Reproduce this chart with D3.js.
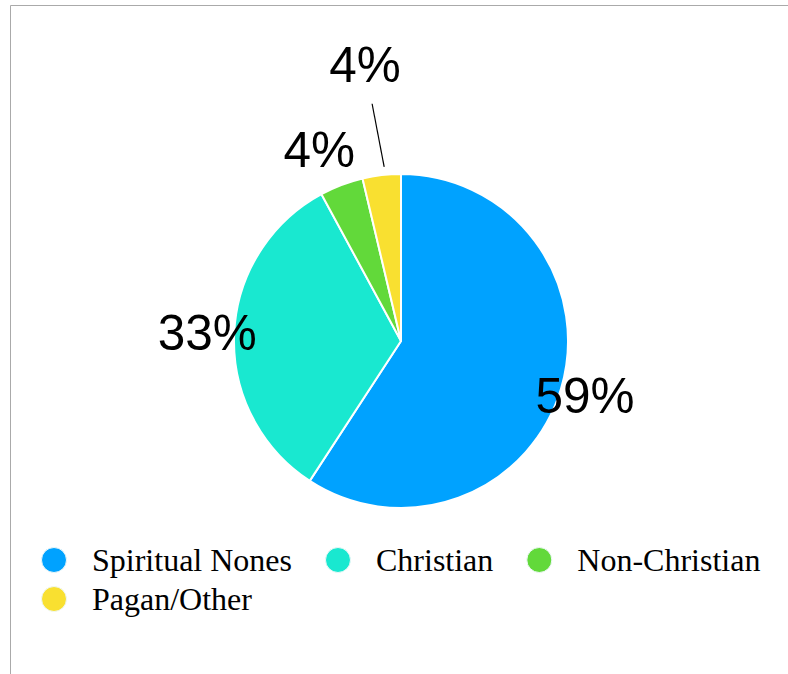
<!DOCTYPE html>
<html>
<head>
<meta charset="utf-8">
<script src="https://cdn.jsdelivr.net/npm/d3@7"></script>
<style>
  html, body { margin: 0; padding: 0; background: #fff; }
  #chart { width: 788px; height: 674px; }
</style>
</head>
<body>
<div id="chart"></div>
<script>
'use strict'

// religious identity shares (percent)
var categories = ['Spiritual Nones', 'Christian', 'Non-Christian', 'Pagan/Other']
var values = [59.2, 32.9, 4.2, 3.7]
var colors = ['#00a2ff', '#19e8d0', '#62d93a', '#f9e030']

var width = 788
var height = 674
var cx = 401
var cy = 341
var radius = 167

var data = categories.map(function(c, i) {
  return { label: c, value: values[i], color: colors[i] }
})

var svg = d3
  .select('#chart')
  .append('svg')
  .attr('width', width)
  .attr('height', height)

// frame lines (top + left)
svg
  .append('path')
  .attr('d', 'M10.5,674 L10.5,5.5 L788,5.5')
  .attr('fill', 'none')
  .attr('stroke', '#aaa')
  .attr('stroke-width', 1)

var pie = d3
  .pie()
  .sort(null)
  .value(function(d) {
    return d.value
  })

var arc = d3.arc().innerRadius(0).outerRadius(radius)

var arcs = pie(data)

var g = svg.append('g').attr('transform', 'translate(' + cx + ',' + cy + ')')

g.selectAll('path.slice')
  .data(arcs)
  .enter()
  .append('path')
  .attr('class', 'slice')
  .attr('d', arc)
  .attr('fill', function(d) {
    return d.data.color
  })
  .attr('stroke', '#fff')
  .attr('stroke-width', 2)

// label radius / angle nudge per slice; last small slice is pulled out with a leader line
var labelR = [192, 194, 208, 278]
var labelNudge = [0, 0, -0.04, 0]

function polar(a, r) {
  return [Math.sin(a) * r, -Math.cos(a) * r]
}

arcs.forEach(function(d, i) {
  var mid = (d.startAngle + d.endAngle) / 2
  var p = polar(mid + labelNudge[i], labelR[i])
  if (i === 3) {
    var p1 = polar(mid + 0.02, radius + 8)
    var p2 = polar(mid - 0.005, radius + 72)
    g.append('line')
      .attr('x1', p1[0])
      .attr('y1', p1[1])
      .attr('x2', p2[0])
      .attr('y2', p2[1])
      .attr('stroke', '#000')
      .attr('stroke-width', 1.2)
    p = [-36, -276]
  }
  g.append('text')
    .attr('x', p[0])
    .attr('y', p[1])
    .attr('dy', '0.35em')
    .attr('text-anchor', 'middle')
    .attr('font-family', 'Liberation Sans, Arial, sans-serif')
    .attr('font-size', '49.5px')
    .attr('fill', '#000')
    .text(Math.round(d.value) + '%')
})

// legend, flowing left to right and wrapping
var legend = svg.append('g').attr('class', 'legend')
var lx = 41
var ly = 560
var maxX = 775
legend
  .selectAll('g.item')
  .data(data)
  .enter()
  .append('g')
  .attr('class', 'item')
  .each(function(d) {
    var item = d3.select(this)
    item
      .append('circle')
      .attr('cx', 13)
      .attr('cy', 0)
      .attr('r', 12.5)
      .attr('fill', d.color)
      .attr('stroke', '#eef8f8')
      .attr('stroke-width', 1)
    var t = item
      .append('text')
      .attr('x', 51)
      .attr('y', 0)
      .attr('dy', '0.35em')
      .attr('font-family', 'Liberation Serif, Times New Roman, serif')
      .attr('font-size', '32px')
      .attr('fill', '#000')
      .text(d.label)
    var w = 51 + t.node().getComputedTextLength()
    if (lx + w > maxX) {
      lx = 41
      ly += 39
    }
    item.attr('transform', 'translate(' + lx + ',' + ly + ')')
    lx += w + 33
  })
</script>
</body>
</html>
